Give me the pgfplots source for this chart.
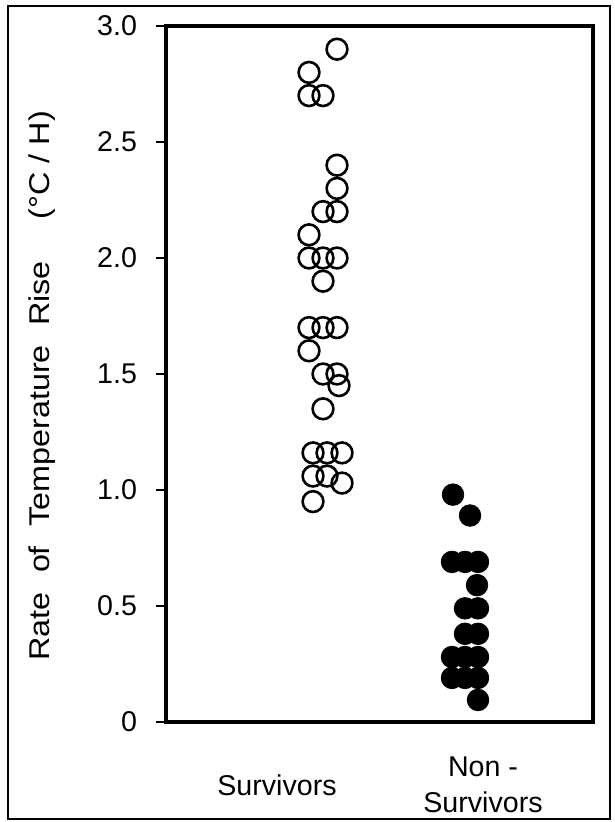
\documentclass[border=0pt]{standalone}
\usepackage{fontspec}
\setmainfont{Liberation Sans}
\usepackage{graphicx}
\usepackage{pgfplots}
\pgfplotsset{compat=1.18}
\begin{document}
\begin{tikzpicture}
\useasboundingbox (0,0) rectangle (307pt,411pt);
\draw[line width=1pt] (4pt,1.5pt) rectangle (305pt,408pt);
\begin{axis}[
  at={(83pt,50pt)}, anchor=south west,
  scale only axis, width=213.5pt, height=348pt,
  xmin=166, xmax=593, ymin=0, ymax=3,
  axis line style={line width=1.6pt},
  ytick={0,0.5,1,1.5,2,2.5,3},
  yticklabels={0,0.5,1.0,1.5,2.0,2.5,3.0},
  ytick pos=left, tick align=outside, major tick length=5pt,
  ytick style={line width=1.2pt, black},
  xtick={277,483},
  xticklabels={Survivors,{Non -\\Survivors}},
  xtick style={draw=none},
  xticklabel style={align=center, anchor=center, yshift=-26.5pt},
  yticklabel style={xshift=-6pt},
  tick label style={font=\fontsize{14.3}{17.8}\selectfont},
  ylabel={\scalebox{1.13}[1]{Rate\hspace{0.6em}of\hspace{0.6em}Temperature\hspace{0.6em}Rise\hspace{1.3em}(°C / H)}},
  ylabel style={at={(axis description cs:-0.29,0.483)}, anchor=center, font=\fontsize{14.3}{17.5}\selectfont},
]
\addplot[only marks, mark=o, mark size=5.2pt, mark options={line width=1.3pt, black}] coordinates {
(337,2.9) (309,2.8) (309,2.7) (323,2.7) (337,2.4) (337,2.3) (323,2.2) (337,2.2)
(309,2.1) (309,2.0) (323,2.0) (337,2.0) (323,1.9) (309,1.7) (323,1.7) (337,1.7)
(309,1.6) (323,1.5) (337,1.5) (339,1.45) (323,1.35) (313,1.16) (327,1.16) (342,1.16)
(313,1.06) (327,1.06) (342,1.03) (313,0.95)
};
\addplot[only marks, mark=*, mark size=5.4pt, mark options={fill=black, draw=black}] coordinates {
(453,0.98) (470,0.89) (452,0.69) (465,0.69) (478,0.69) (477,0.59) (465,0.49) (478,0.49)
(465,0.38) (478,0.38) (452,0.28) (465,0.28) (478,0.28) (452,0.19) (465,0.19) (478,0.19)
(478,0.095)
};
\end{axis}
\end{tikzpicture}
\end{document}
